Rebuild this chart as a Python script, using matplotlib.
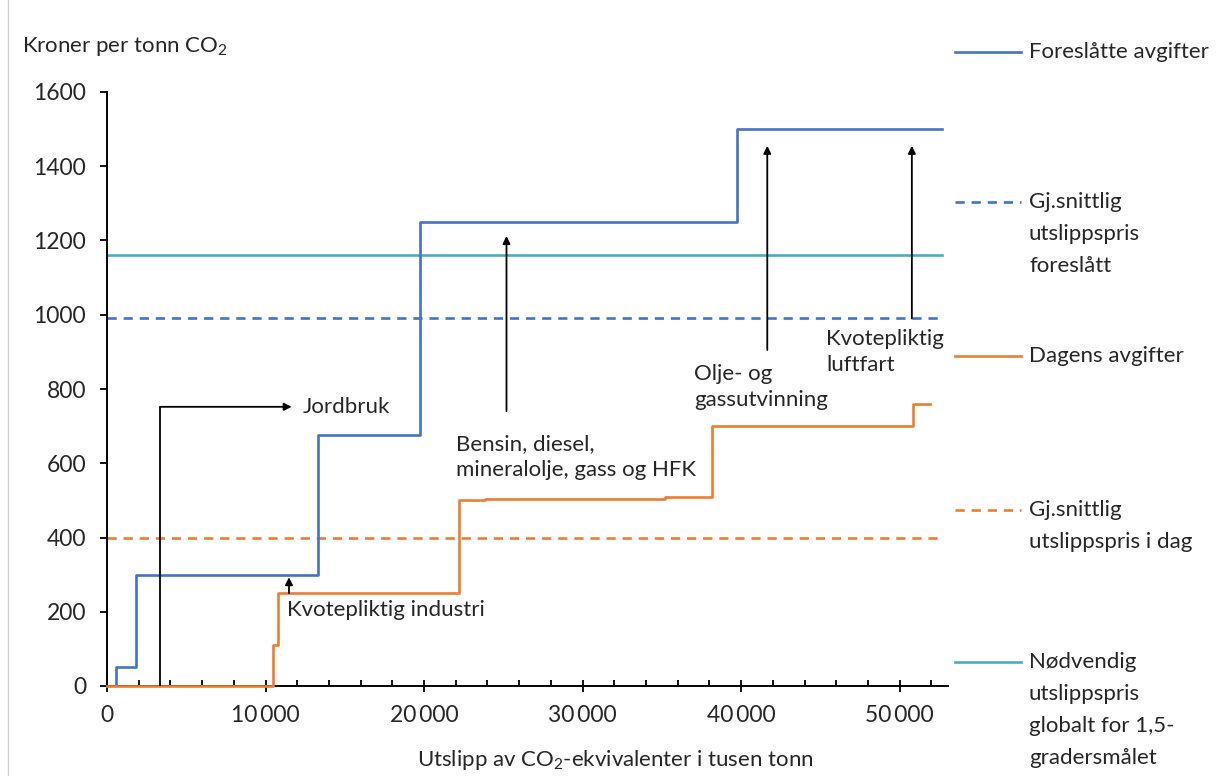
import matplotlib
matplotlib.use("Agg")
import matplotlib.pyplot as plt
from matplotlib.lines import Line2D
from matplotlib.ticker import MultipleLocator, FuncFormatter

plt.rcParams['font.family'] = ['Lato', 'DejaVu Sans']
plt.rcParams['mathtext.fontset'] = 'custom'
plt.rcParams['mathtext.rm'] = 'Lato'
plt.rcParams['mathtext.it'] = 'Lato'

# Proposed tax levels (step curve): x break points and price levels
proposed_x = [550, 550, 1830, 13310, 19750, 39750, 52680]
proposed_y = [0, 50, 300, 675, 1250, 1500, 1500]

# Today's tax levels (step curve)
current_x = [0, 10450, 10800, 22200, 23850, 35200, 38150, 50850, 51900]
current_y = [0, 110, 250, 500, 505, 510, 700, 760, 760]

avg_proposed = 990
avg_current = 400
global_needed = 1160
x_end = 52680

BLUE = '#4472C4'
ORANGE = '#ED7D31'
CYAN = '#4BACC6'
TXT = '#262626'
FS = 16
TICK_FS = 16.5

W, H = 1223, 776
fig = plt.figure(figsize=(W / 100, H / 100), dpi=100)
ax = fig.add_axes([107 / W, 1 - 686 / H, (948 - 107) / W, (686 - 92) / H])

lw = 1.9
ax.plot([0, x_end], [global_needed] * 2, color=CYAN, lw=lw, zorder=2)
ax.plot([0, x_end], [avg_proposed] * 2, color=BLUE, lw=lw, dashes=(3.5, 2.6), zorder=2)
ax.plot([0, x_end], [avg_current] * 2, color=ORANGE, lw=lw, dashes=(3.5, 2.6), zorder=2)
ax.step(proposed_x, proposed_y, where='post', color=BLUE, lw=lw, zorder=3)
ax.step(current_x, current_y, where='post', color=ORANGE, lw=lw, zorder=4, clip_on=False)

ax.set_xlim(0, 53050)
ax.set_ylim(0, 1600)
for s in ('top', 'right'):
    ax.spines[s].set_visible(False)
for s in ('left', 'bottom'):
    ax.spines[s].set_linewidth(1.4)
    ax.spines[s].set_color('black')

ax.xaxis.set_major_locator(MultipleLocator(10000))
ax.xaxis.set_minor_locator(MultipleLocator(2000))
ax.yaxis.set_major_locator(MultipleLocator(200))
ax.xaxis.set_major_formatter(FuncFormatter(
    lambda v, p: '0' if v == 0 else f"{int(v):,}".replace(',', '\u2009')))
ax.tick_params(axis='x', which='major', direction='inout', length=9, width=1.3,
               labelsize=TICK_FS, labelcolor=TXT, pad=9)
ax.tick_params(axis='x', which='minor', direction='in', length=4, width=1.3)
ax.tick_params(axis='y', which='major', direction='out', length=5, width=1.3,
               labelsize=TICK_FS, labelcolor=TXT, pad=10)

arrow = dict(arrowstyle='-|>', color='black', lw=1.3, mutation_scale=11,
             shrinkA=0, shrinkB=0)

# Jordbruk: elbow arrow
ax.plot([3340, 3340], [0, 752], color='black', lw=1.3, zorder=5, solid_capstyle='butt')
ax.annotate('', xy=(11650, 752), xytext=(3340, 752), arrowprops=arrow, zorder=5)
ax.text(12370, 752, 'Jordbruk', fontsize=FS, color=TXT, va='center', ha='left')

# Kvotepliktig industri
ax.annotate('', xy=(11480, 293), xytext=(11480, 250), arrowprops=arrow, zorder=5)
ax.text(11360, 205, 'Kvotepliktig industri', fontsize=FS, color=TXT, va='center', ha='left')

# Bensin, diesel ...
ax.annotate('', xy=(25200, 1212), xytext=(25200, 740), arrowprops=arrow, zorder=5)
ax.text(22020, 616, 'Bensin, diesel,\nmineralolje, gass og HFK', fontsize=FS,
        color=TXT, va='center', ha='left', linespacing=1.35)

# Olje- og gassutvinning
ax.annotate('', xy=(41650, 1455), xytext=(41650, 905), arrowprops=arrow, zorder=5)
ax.text(37030, 805, 'Olje- og\ngassutvinning', fontsize=FS, color=TXT,
        va='center', ha='left', linespacing=1.35)

# Kvotepliktig luftfart
ax.annotate('', xy=(50770, 1455), xytext=(50770, 990), arrowprops=arrow, zorder=5)
ax.text(45360, 900, 'Kvotepliktig\nluftfart', fontsize=FS, color=TXT,
        va='center', ha='left', linespacing=1.35)

# Axis titles
fig.text(22 / W, 1 - 47 / H, r'Kroner per tonn CO$_2$', fontsize=FS, color=TXT,
         va='center', ha='left')
fig.text(615 / W, 1 - 760 / H, r'Utslipp av CO$_2$-ekvivalenter i tusen tonn',
         fontsize=FS, color=TXT, va='center', ha='center')

# Legend on the right
legend_items = [
    (52, BLUE, None, 'Foreslåtte avgifter'),
    (202, BLUE, (3.5, 2.6), 'Gj.snittlig\nutslippspris\nforeslått'),
    (356, ORANGE, None, 'Dagens avgifter'),
    (510, ORANGE, (3.5, 2.6), 'Gj.snittlig\nutslippspris i dag'),
    (662, CYAN, None, 'Nødvendig\nutslippspris\nglobalt for 1,5-\ngradersmålet'),
]
for ypx, col, dash, label in legend_items:
    yf = 1 - ypx / H
    kw = dict(color=col, lw=lw, transform=fig.transFigure)
    if dash:
        kw['dashes'] = dash
    fig.add_artist(Line2D([955 / W, 1021 / W], [yf, yf], **kw))
    first, *rest = label.split('\n')
    fig.text(1029 / W, yf, first, fontsize=FS, color=TXT, va='center', ha='left')
    for i, line in enumerate(rest, start=1):
        fig.text(1029 / W, 1 - (ypx + 32 * i) / H, line, fontsize=FS, color=TXT,
                 va='center', ha='left')

# Thin frame line on the left edge
fig.add_artist(Line2D([8 / W, 8 / W], [0, 1], color='#d0d0d0', lw=1,
                      transform=fig.transFigure))

fig.savefig('out.png', dpi=100)
